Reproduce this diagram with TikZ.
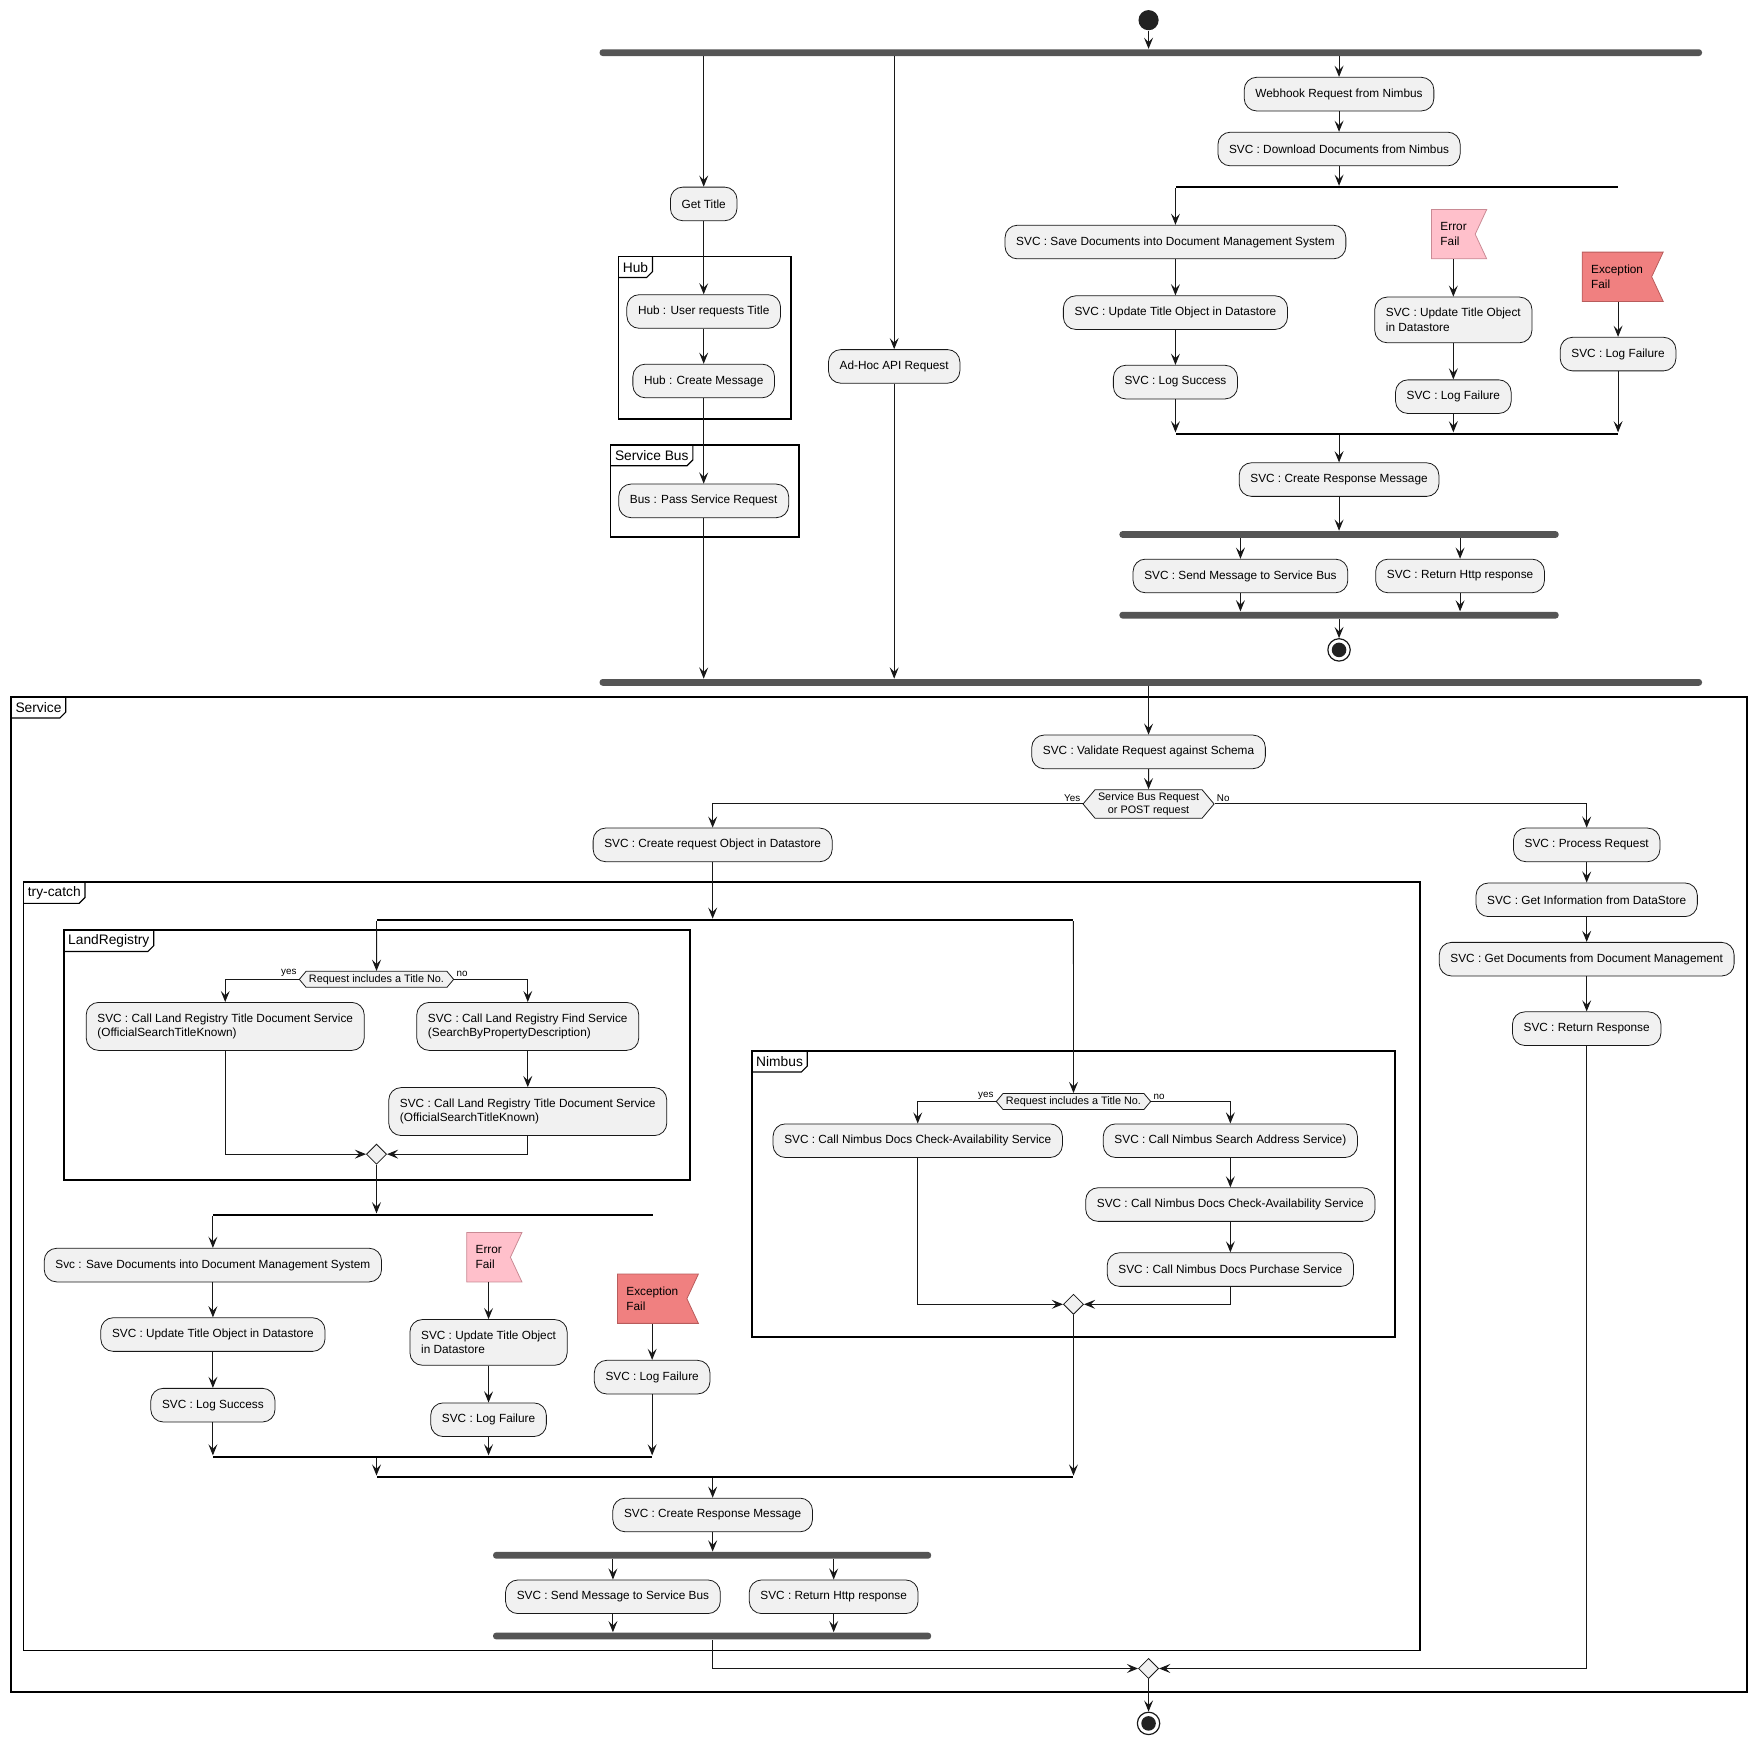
\documentclass[tikz,border=0pt]{standalone}
\usepackage{fontspec}
\setmainfont{Liberation Sans}
\definecolor{ActFill}{HTML}{F1F1F1}
\definecolor{ActLine}{HTML}{181818}
\definecolor{BarGray}{HTML}{555555}
\definecolor{DotBlack}{HTML}{222222}
\definecolor{ErrPink}{HTML}{FFC0CB}
\definecolor{ErrLine}{HTML}{C98A94}
\definecolor{ExcRed}{HTML}{F08080}
\definecolor{ExcLine}{HTML}{B85C5C}
\usetikzlibrary{arrows.meta, positioning, shapes.geometric, shapes.symbols}
\begin{document}
\begin{tikzpicture}[x=0.02cm, y=-0.02cm,
    act/.style={draw=ActLine, fill=ActFill, line width=0.4pt, rounded corners=0.22cm,
      minimum height=0.6cm, inner xsep=0.2cm, inner ysep=0.2cm, align=left,
      font=\fontsize{6}{7.4}\selectfont},
    fbar/.style={fill=BarGray, rounded corners=1.5pt, minimum height=0.12cm, inner sep=0pt},
    sbar/.style={fill=black, minimum height=0.9pt, inner sep=0pt},
    dec/.style={signal, signal to=east and west, signal pointer angle=100, draw=ActLine,
      fill=ActFill, line width=0.4pt, inner xsep=1.5pt, inner ysep=1.5pt, align=center,
      font=\fontsize{5.5}{6.4}\selectfont},
    merge/.style={diamond, draw=ActLine, fill=ActFill, line width=0.4pt,
      minimum size=0.36cm, inner sep=0pt},
    flag/.style={signal, signal to=nowhere, signal from=east, signal pointer angle=130,
      line width=0.4pt, minimum height=0.88cm, inner xsep=0.16cm, align=left,
      font=\fontsize{6}{7.4}\selectfont},
    errflag/.style={flag, draw=ErrLine, fill=ErrPink, text width=0.46cm},
    excflag/.style={flag, draw=ExcLine, fill=ExcRed, text width=0.92cm},
    startdot/.style={circle, fill=DotBlack, minimum size=0.36cm, inner sep=0pt},
    stopdot/.style={circle, draw=ActLine, fill=white, line width=0.6pt, minimum size=0.4cm,
      inner sep=0pt, path picture={\fill[DotBlack] (path picture bounding box.center) circle (0.13cm);}},
    grp/.style={draw=black, line width=0.8pt},
    grptab/.style={anchor=north west, inner xsep=2pt, inner ysep=2pt, minimum height=0.36cm,
      font=\fontsize{7}{8}\selectfont},
    tabedge/.style={draw=black, line width=0.6pt},
    lbl/.style={inner sep=1pt, font=\fontsize{5}{6}\selectfont},
    arr/.style={-{Stealth[length=2mm, width=1.6mm, inset=0.8mm]}, line width=0.5pt, ActLine}
  ]
  \useasboundingbox (0,0) rectangle (1568,1557);

  \draw[grp] (552,229) rectangle (706,374);
  \node[grptab] (hubTab) at (552,229) {Hub};
  \draw[tabedge] (hubTab.north east) -- ([yshift=3pt]hubTab.south east) -- ([xshift=-3pt]hubTab.south east) -- (hubTab.south west);
  \draw[grp] (545,397) rectangle (713,479);
  \node[grptab] (busTab) at (545,397) {Service Bus};
  \draw[tabedge] (busTab.north east) -- ([yshift=3pt]busTab.south east) -- ([xshift=-3pt]busTab.south east) -- (busTab.south west);
  \draw[grp] (10,622) rectangle (1559,1510);
  \node[grptab] (svcTab) at (10,622) {Service};
  \draw[tabedge] (svcTab.north east) -- ([yshift=3pt]svcTab.south east) -- ([xshift=-3pt]svcTab.south east) -- (svcTab.south west);
  \draw[grp] (21,787) rectangle (1267,1473);
  \node[grptab] (tryTab) at (21,787) {try-catch};
  \draw[tabedge] (tryTab.north east) -- ([yshift=3pt]tryTab.south east) -- ([xshift=-3pt]tryTab.south east) -- (tryTab.south west);
  \draw[grp] (57,830) rectangle (616,1053);
  \node[grptab] (lrTab) at (57,830) {LandRegistry};
  \draw[tabedge] (lrTab.north east) -- ([yshift=3pt]lrTab.south east) -- ([xshift=-3pt]lrTab.south east) -- (lrTab.south west);
  \draw[grp] (671,938) rectangle (1245,1193);
  \node[grptab] (nbTab) at (671,938) {Nimbus};
  \draw[tabedge] (nbTab.north east) -- ([yshift=3pt]nbTab.south east) -- ([xshift=-3pt]nbTab.south east) -- (nbTab.south west);

  \node[startdot] (start) at (1025,18) {};
  \node[fbar, minimum width=19.68cm] (fkTop) at (1027,47) {};
  \node[act] (getTitle) at (628,182) {Get Title};
  \node[act] (hubUser) at (628,278) {Hub : User requests Title};
  \node[act] (hubMsg) at (628,340) {Hub : Create Message};
  \node[act] (busPass) at (628,447) {Bus : Pass Service Request};
  \node[act] (adhoc) at (798,327) {Ad-Hoc API Request};
  \node[act] (webhook) at (1195,84) {Webhook Request from Nimbus};
  \node[act] (download) at (1195,133) {SVC : Download Documents from Nimbus};
  \node[sbar, minimum width=7.9cm] (splitTop) at (1246.5,167) {};
  \node[act] (saveDocs) at (1049,216) {SVC : Save Documents into Document Management System};
  \node[act] (updTitle) at (1049,279) {SVC : Update Title Object in Datastore};
  \node[act] (logOk) at (1049,341) {SVC : Log Success};
  \node[errflag] (errFlag) at (1297,209) {Error\\Fail};
  \node[act] (updFail) at (1297,285.5) {SVC : Update Title Object\\in Datastore};
  \node[act] (logFail) at (1297,354) {SVC : Log Failure};
  \node[excflag] (excFlag) at (1443,247) {Exception\\Fail};
  \node[act] (logExc) at (1444,316) {SVC : Log Failure};
  \node[sbar, minimum width=7.9cm] (mergeTop) at (1246.5,387) {};
  \node[act] (respMsg) at (1195,428) {SVC : Create Response Message};
  \node[fbar, minimum width=7.84cm] (fkResp) at (1195,477) {};
  \node[act] (sendBus) at (1107,514) {SVC : Send Message to Service Bus};
  \node[act] (retHttp) at (1303,514) {SVC : Return Http response};
  \node[fbar, minimum width=7.84cm] (jnResp) at (1195,549) {};
  \node[stopdot] (stopTop) at (1195,580) {};
  \node[fbar, minimum width=19.68cm] (jnTop) at (1027,609) {};

  \node[act] (validate) at (1025,671) {SVC : Validate Request against Schema};
  \node[dec] (sbDec) at (1025,717.5) {Service Bus Request\\or POST request};
  \node[lbl, anchor=south east] (sbYes) at (sbDec.west) {Yes};
  \node[lbl, anchor=south west] (sbNo) at (sbDec.east) {No};
  \node[act] (createReq) at (636,754) {SVC : Create request Object in Datastore};
  \node[act] (procReq) at (1416,754) {SVC : Process Request};
  \node[act] (getInfo) at (1416,803) {SVC : Get Information from DataStore};
  \node[act] (getDocs) at (1416,856) {SVC : Get Documents from Document Management};
  \node[act] (retResp) at (1416,918) {SVC : Return Response};
  \node[sbar, minimum width=12.44cm] (splitTry) at (647,821) {};

  \node[dec] (lrDec) at (336,874) {Request includes a Title No.};
  \node[lbl, anchor=south east] (lrYes) at (lrDec.west) {yes};
  \node[lbl, anchor=south west] (lrNo) at (lrDec.east) {no};
  \node[act] (lrTitle) at (201,916) {SVC : Call Land Registry Title Document Service\\(OfficialSearchTitleKnown)};
  \node[act] (lrFind) at (471,916) {SVC : Call Land Registry Find Service\\(SearchByPropertyDescription)};
  \node[act] (lrTitle2) at (471,992) {SVC : Call Land Registry Title Document Service\\(OfficialSearchTitleKnown)};
  \node[merge] (lrMerge) at (336,1030) {};

  \node[dec] (nbDec) at (958,983) {Request includes a Title No.};
  \node[lbl, anchor=south east] (nbYes) at (nbDec.west) {yes};
  \node[lbl, anchor=south west] (nbNo) at (nbDec.east) {no};
  \node[act] (nbCheck) at (819,1018) {SVC : Call Nimbus Docs Check-Availability Service};
  \node[act] (nbSearch) at (1098,1018) {SVC : Call Nimbus Search Address Service)};
  \node[act] (nbCheck2) at (1098,1075) {SVC : Call Nimbus Docs Check-Availability Service};
  \node[act] (nbBuy) at (1098,1133) {SVC : Call Nimbus Docs Purchase Service};
  \node[merge] (nbMerge) at (958,1164) {};

  \node[sbar, minimum width=7.86cm] (splitLow) at (386.5,1084) {};
  \node[act] (saveDocs2) at (190,1129) {Svc : Save Documents into Document Management System};
  \node[act] (updTitle2) at (190,1191) {SVC : Update Title Object in Datastore};
  \node[act] (logOk2) at (190,1254) {SVC : Log Success};
  \node[errflag] (errFlag2) at (436,1122) {Error\\Fail};
  \node[act] (updFail2) at (436,1198) {SVC : Update Title Object\\in Datastore};
  \node[act] (logFail2) at (436,1267) {SVC : Log Failure};
  \node[excflag] (excFlag2) at (582,1159) {Exception\\Fail};
  \node[act] (logExc2) at (582,1229) {SVC : Log Failure};
  \node[sbar, minimum width=7.84cm] (mergeLow) at (386,1300) {};
  \node[sbar, minimum width=12.44cm] (mergeTry) at (647,1318) {};
  \node[act] (respMsg2) at (636,1352) {SVC : Create Response Message};
  \node[fbar, minimum width=7.82cm] (fkResp2) at (635.5,1388) {};
  \node[act] (sendBus2) at (547,1425) {SVC : Send Message to Service Bus};
  \node[act] (retHttp2) at (744,1425) {SVC : Return Http response};
  \node[fbar, minimum width=7.82cm] (jnResp2) at (635.5,1460) {};
  \node[merge] (endMerge) at (1025,1489) {};
  \node[stopdot] (stopEnd) at (1025,1538) {};

  \draw[arr] (start) -- (fkTop.north -| start);
  \draw[arr] (fkTop.south -| getTitle) -- (getTitle);
  \draw[arr] (getTitle) -- (hubUser);
  \draw[arr] (hubUser) -- (hubMsg);
  \draw[arr] (hubMsg) -- (busPass);
  \draw[arr] (busPass) -- (jnTop.north -| busPass);
  \draw[arr] (fkTop.south -| adhoc) -- (adhoc);
  \draw[arr] (adhoc) -- (jnTop.north -| adhoc);
  \draw[arr] (fkTop.south -| webhook) -- (webhook);
  \draw[arr] (webhook) -- (download);
  \draw[arr] (download) -- (splitTop.north -| download);
  \draw[arr] (splitTop.south -| saveDocs) -- (saveDocs);
  \draw[arr] (saveDocs) -- (updTitle);
  \draw[arr] (updTitle) -- (logOk);
  \draw[arr] (logOk) -- (mergeTop.north -| logOk);
  \draw[arr] (errFlag.south -| updFail) -- (updFail);
  \draw[arr] (updFail) -- (logFail);
  \draw[arr] (logFail) -- (mergeTop.north -| logFail);
  \draw[arr] (excFlag.south -| logExc) -- (logExc);
  \draw[arr] (logExc) -- (mergeTop.north -| logExc);
  \draw[arr] (mergeTop.south -| respMsg) -- (respMsg);
  \draw[arr] (respMsg) -- (fkResp.north -| respMsg);
  \draw[arr] (fkResp.south -| sendBus) -- (sendBus);
  \draw[arr] (fkResp.south -| retHttp) -- (retHttp);
  \draw[arr] (sendBus) -- (jnResp.north -| sendBus);
  \draw[arr] (retHttp) -- (jnResp.north -| retHttp);
  \draw[arr] (jnResp.south -| stopTop) -- (stopTop);

  \draw[arr] (jnTop.south -| validate) -- (validate);
  \draw[arr] (validate) -- (sbDec);
  \draw[arr] (sbDec.west) -| (createReq);
  \draw[arr] (sbDec.east) -| (procReq);
  \draw[arr] (procReq) -- (getInfo);
  \draw[arr] (getInfo) -- (getDocs);
  \draw[arr] (getDocs) -- (retResp);
  \draw[arr] (retResp) |- (endMerge);
  \draw[arr] (createReq) -- (splitTry.north -| createReq);
  \draw[arr] (splitTry.south -| lrDec) -- (lrDec);
  \draw[arr] (splitTry.south -| nbDec) -- (nbDec);

  \draw[arr] (lrDec.west) -| (lrTitle);
  \draw[arr] (lrDec.east) -| (lrFind);
  \draw[arr] (lrFind) -- (lrTitle2);
  \draw[arr] (lrTitle) |- (lrMerge);
  \draw[arr] (lrTitle2) |- (lrMerge);
  \draw[arr] (lrMerge) -- (splitLow.north -| lrMerge);

  \draw[arr] (nbDec.west) -| (nbCheck);
  \draw[arr] (nbDec.east) -| (nbSearch);
  \draw[arr] (nbSearch) -- (nbCheck2);
  \draw[arr] (nbCheck2) -- (nbBuy);
  \draw[arr] (nbCheck) |- (nbMerge);
  \draw[arr] (nbBuy) |- (nbMerge);
  \draw[arr] (nbMerge) -- (mergeTry.north -| nbMerge);

  \draw[arr] (splitLow.south -| saveDocs2) -- (saveDocs2);
  \draw[arr] (saveDocs2) -- (updTitle2);
  \draw[arr] (updTitle2) -- (logOk2);
  \draw[arr] (logOk2) -- (mergeLow.north -| logOk2);
  \draw[arr] (errFlag2.south -| updFail2) -- (updFail2);
  \draw[arr] (updFail2) -- (logFail2);
  \draw[arr] (logFail2) -- (mergeLow.north -| logFail2);
  \draw[arr] (excFlag2.south -| logExc2) -- (logExc2);
  \draw[arr] (logExc2) -- (mergeLow.north -| logExc2);
  \draw[arr] (mergeLow.south -| lrMerge) -- (mergeTry.north -| lrMerge);
  \draw[arr] (mergeTry.south -| respMsg2) -- (respMsg2);
  \draw[arr] (respMsg2) -- (fkResp2.north -| respMsg2);
  \draw[arr] (fkResp2.south -| sendBus2) -- (sendBus2);
  \draw[arr] (fkResp2.south -| retHttp2) -- (retHttp2);
  \draw[arr] (sendBus2) -- (jnResp2.north -| sendBus2);
  \draw[arr] (retHttp2) -- (jnResp2.north -| retHttp2);
  \draw[arr] (jnResp2.south -| respMsg2) |- (endMerge);
  \draw[arr] (endMerge) -- (stopEnd);
\end{tikzpicture}
\end{document}
